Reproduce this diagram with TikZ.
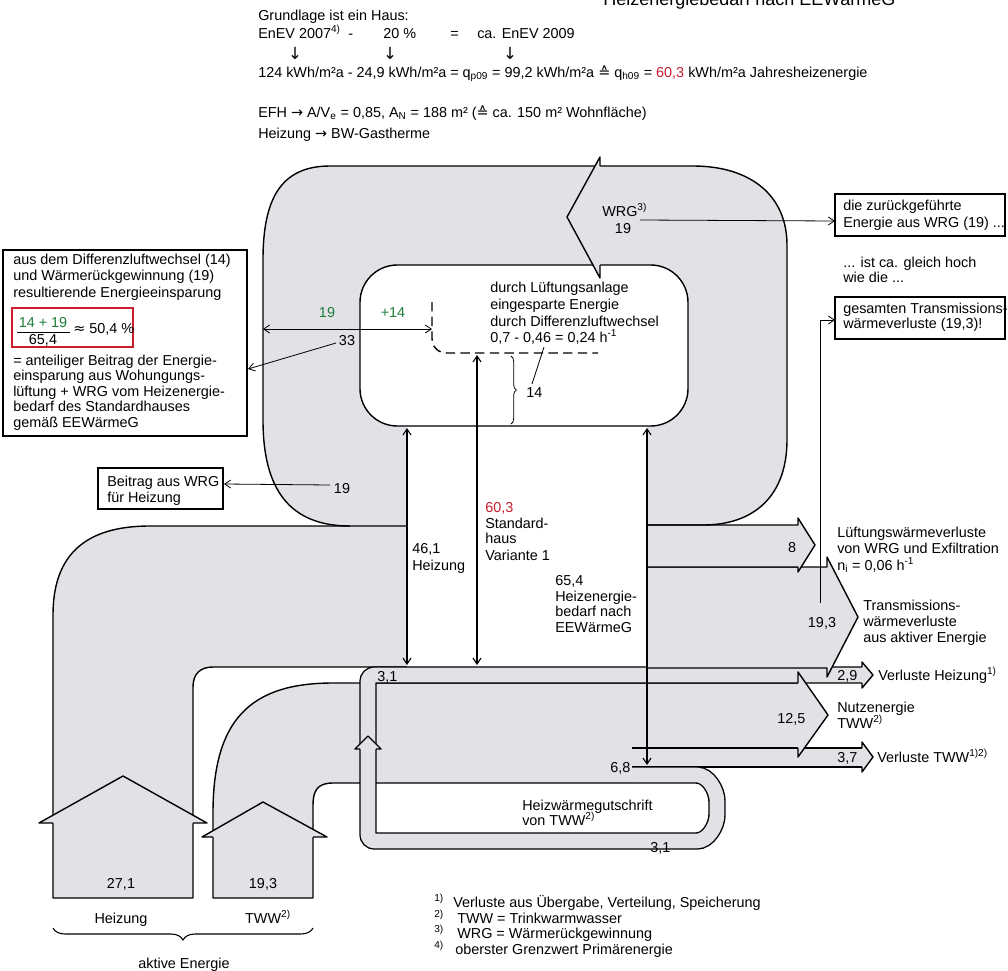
\documentclass[tikz,border=0pt]{standalone}
\usepackage{fontspec}
\setmainfont{Liberation Sans}
\newfontfamily\dejavu{DejaVu Sans}
\usetikzlibrary{arrows.meta,decorations.pathreplacing}
\definecolor{bandgray}{RGB}{226,226,230}
\definecolor{numred}{RGB}{200,30,45}
\definecolor{numgreen}{RGB}{30,125,60}
\begin{document}
\begin{tikzpicture}[x=0.75pt,y=-0.75pt,
  txt/.style={anchor=base west,inner sep=0pt,font=\fontsize{10.8}{13}\selectfont},
  ctxt/.style={anchor=base,inner sep=0pt,font=\fontsize{10.8}{13}\selectfont},
  band/.style={fill=bandgray},
  edge/.style={line width=1.05pt,line join=round},
  thinl/.style={line width=0.6pt},
  tipr/.style={-{Straight Barb[length=4.5pt,width=6pt]}},
  dtip/.style={{Straight Barb[length=4.5pt,width=6pt]}-{Straight Barb[length=4.5pt,width=6pt]}},
  boxl/.style={draw,line width=1pt},
  downarr/.style={inner sep=0pt,font=\fontsize{12.5}{13}\dejavu}]

\useasboundingbox (0,0) rectangle (1008,971);
\fill[white] (0,0) rectangle (1008,971);

% ---------- fills ----------
\fill[bandgray] (407,526) -- (350,526) .. controls (290,526) and (263,490) .. (263,420) -- (263,260)
  .. controls (263,200) and (280,166) .. (330,166) -- (693,166) .. controls (750,166) and (787,195) .. (787,245)
  -- (787,440) .. controls (787,495) and (755,525) .. (703,525) -- (647,525) -- (647,426) -- (407,426) -- cycle;

\fill[bandgray] (53,898) -- (53,615) .. controls (53,555) and (85,526) .. (150,526) -- (407,526) -- (407,667)
  -- (213,667) .. controls (200,667) and (193,674) .. (193,687) -- (193,898) -- cycle;

\fill[bandgray] (213,898) -- (213,813) .. controls (213,720) and (250,683) .. (333,683) -- (798,683) -- (798,748)
  -- (862,748) -- (862,767) -- (632,767) -- (632,783) -- (333,783) .. controls (318,783) and (313,790) .. (313,805)
  -- (313,898) -- cycle;

% ---------- band outlines ----------
\draw[edge] (407,526) -- (150,526) .. controls (85,526) and (53,555) .. (53,615) -- (53,898) -- (193,898)
  -- (193,687) .. controls (193,674) and (200,667) .. (213,667) -- (407,667);
\draw[edge] (798,683) -- (333,683) .. controls (250,683) and (213,720) .. (213,813) -- (213,898) -- (313,898)
  -- (313,805) .. controls (313,790) and (318,783) .. (333,783) -- (632,783);
\draw[edge] (632,748) -- (862,748);
\draw[edge] (632,767) -- (862,767);

% ---------- 3,1 return band ----------
\draw[line width=1.05pt, double=bandgray, double distance=10.95pt, rounded corners=5pt]
  (632,775) -- (690,775) .. controls (708,775) and (717,790) .. (717,808) .. controls (717,826) and (708,841) .. (690,841)
  -- (368,841) -- (368,675) -- (862,675);

% ---------- output arrows ----------
\filldraw[band,edge] (647,567) -- (827,567) -- (827,557) -- (858,617) -- (827,677) -- (827,668) -- (647,668);
\filldraw[band,edge] (647,525) -- (798,525) -- (798,518) -- (815,545) -- (798,572) -- (798,567) -- (647,567);

% ---------- loop outline ----------
\draw[edge] (350,526) .. controls (290,526) and (263,490) .. (263,420) -- (263,260)
  .. controls (263,200) and (280,166) .. (330,166) -- (693,166) .. controls (750,166) and (787,195) .. (787,245)
  -- (787,440) .. controls (787,495) and (755,525) .. (703,525) -- (647,525);

% ---------- inner box ----------
\filldraw[fill=white,edge,rounded corners=28pt] (360,265) rectangle (688,426);
\draw[edge,dash pattern=on 7pt off 4pt] (432,302) -- (432,338) .. controls (432,347) and (438,353) .. (447,353) -- (598,353);

% ---------- arrow heads ----------
\filldraw[band,edge] (600,166) -- (600,157) -- (567,217) -- (600,278) -- (600,265);
\filldraw[band,edge] (53,823) -- (39,823) -- (123,776) -- (207,823) -- (193,823);
\filldraw[band,edge] (213,837) -- (202,837) -- (263,802) -- (327,837) -- (313,837);
\filldraw[band,edge] (360,749) -- (355,749) -- (368,736) -- (381,749) -- (376,749);
\filldraw[band,edge] (798,683) -- (798,672) -- (828,715) -- (798,757) -- (798,748);
\filldraw[band,edge] (862,748) -- (862,742) -- (873,757) -- (862,772) -- (862,767);
\filldraw[band,edge] (862,667) -- (862,662) -- (873,675) -- (862,688) -- (862,683);

% ---------- measuring arrows and leaders ----------
\draw[thinl,dtip] (263,329) -- (432,329);
\draw[line width=0.8pt,dtip] (407,428) -- (407,665);
\draw[line width=0.8pt,dtip] (477,355) -- (477,665);
\draw[line width=0.8pt,dtip] (647,428) -- (647,765);
\draw[thinl,decorate,decoration={brace,amplitude=4pt}] (511,356) -- (511,424);
\draw[thinl] (532,384) -- (544,347);
\draw[thinl,tipr] (336,343) -- (248,369);
\draw[thinl,tipr] (330,485) -- (224,484);
\draw[thinl,tipr] (640,220) -- (835,221);
\draw[thinl,tipr] (820,603) -- (820,320) -- (835,320);
\draw[line width=0.8pt,decorate,decoration={brace,amplitude=9pt}] (313,928) -- (53,928);

% ---------- boxes ----------
\draw[boxl] (3,250) rectangle (247,436);
\draw[numred,line width=1.2pt] (12,308) rectangle (133,347);
\draw[boxl] (98,468) rectangle (223,509);
\draw[boxl] (835,194) rectangle (1005,236);
\draw[boxl] (835,297) rectangle (1005,339);

% ---------- top text ----------
\node[anchor=base west,inner sep=0pt,font=\fontsize{13.5}{16}\selectfont] (title) at (603,5) {Heizenergiebedarf nach EEWärmeG};
\node[txt] (t1) at (258,20) {Grundlage ist ein Haus:};
\node[txt] (t2) at (258,38) {EnEV 2007\textsuperscript{4)}};
\node[txt] (t3) at (348,38) {-};
\node[txt] (t4) at (383,38) {20 \%};
\node[txt] (t5) at (450,38) {=};
\node[txt] (t6) at (477,38) {ca. EnEV 2009};
\node[downarr] (a1) at (295,53) {↓};
\node[downarr] (a2) at (390,53) {↓};
\node[downarr] (a3) at (510,53) {↓};
\node[txt] (t7) at (258,77) {124 kWh/m²a - 24,9 kWh/m²a = q\textsubscript{p09} = 99,2 kWh/m²a {\dejavu ≙} q\textsubscript{h09} = \textcolor{numred}{60,3} kWh/m²a Jahresheizenergie};
\node[txt] (t8) at (258,117) {EFH {\dejavu →} A/V\textsubscript{e} = 0,85, A\textsubscript{N} = 188 m² ({\dejavu ≙} ca. 150 m² Wohnfläche)};
\node[txt] (t9) at (258,138) {Heizung {\dejavu →} BW-Gastherme};

% ---------- left box ----------
\node[txt] (l1) at (13,264) {aus dem Differenzluftwechsel (14)};
\node[txt] (l2) at (13,280) {und Wärmerückgewinnung (19)};
\node[txt] (l3) at (13,297) {resultierende Energieeinsparung};
\node[ctxt,text=numgreen] (fn) at (43,327) {14 + 19};
\draw[thinl] (17,332) -- (70,332);
\node[ctxt] (fd) at (43,344) {65,4};
\node[txt] (fr) at (73,333) {{\dejavu ≈} 50,4 \%};
\node[txt] (l4) at (13,365) {= anteiliger Beitrag der Energie-};
\node[txt] (l5) at (13,380) {einsparung aus Wohungungs-};
\node[txt] (l6) at (13,396) {lüftung + WRG vom Heizenergie-};
\node[txt] (l7) at (13,411) {bedarf des Standardhauses};
\node[txt] (l8) at (13,427) {gemäß EEWärmeG};
\node[txt] (b1) at (107,486) {Beitrag aus WRG};
\node[txt] (b2) at (107,502) {für Heizung};
\node[ctxt] (n19b) at (342,493) {19};

% ---------- loop labels ----------
\node[ctxt,text=numgreen] (g19) at (327,317) {19};
\node[ctxt,text=numgreen] (g14) at (393,317) {+14};
\node[ctxt] (n33) at (347,345) {33};
\node[txt] (wrg) at (602,216) {WRG\textsuperscript{3)}};
\node[ctxt] (w19) at (623,233) {19};
\node[txt] (i1) at (490,292) {durch Lüftungsanlage};
\node[txt] (i2) at (490,309) {eingesparte Energie};
\node[txt] (i3) at (490,326) {durch Differenzluftwechsel};
\node[txt] (i4) at (490,342) {0,7 - 0,46 = 0,24 h\textsuperscript{-1}};
\node[txt] (n14) at (526,397) {14};

% ---------- house labels ----------
\node[txt] (h1) at (412,553) {46,1};
\node[txt] (h2) at (412,570) {Heizung};
\node[txt,text=numred] (s1) at (485,512) {60,3};
\node[txt] (s2) at (485,528) {Standard-};
\node[txt] (s3) at (485,543) {haus};
\node[txt] (s4) at (485,560) {Variante 1};
\node[txt] (e1) at (555,585) {65,4};
\node[txt] (e2) at (555,601) {Heizenergie-};
\node[txt] (e3) at (555,616) {bedarf nach};
\node[txt] (e4) at (555,632) {EEWärmeG};

% ---------- right side ----------
\node[txt] (r1) at (843,210) {die zurückgeführte};
\node[txt] (r2) at (843,227) {Energie aus WRG (19) ...};
\node[txt] (r3) at (843,267) {... ist ca. gleich hoch};
\node[txt] (r4) at (843,282) {wie die ...};
\node[txt] (r5) at (843,313) {gesamten Transmissions-};
\node[txt] (r6) at (843,328) {wärmeverluste (19,3)!};
\node[ctxt] (o8) at (792,552) {8};
\node[txt] (v1) at (837,537) {Lüftungswärmeverluste};
\node[txt] (v2) at (837,553) {von WRG und Exfiltration};
\node[txt] (v3) at (837,570) {n\textsubscript{i} = 0,06 h\textsuperscript{-1}};
\node[ctxt] (o193) at (822,627) {19,3};
\node[txt] (tr1) at (863,610) {Transmissions-};
\node[txt] (tr2) at (863,626) {wärmeverluste};
\node[txt] (tr3) at (863,642) {aus aktiver Energie};
\node[txt] (o29) at (837,680) {2,9};
\node[txt] (vh) at (878,680) {Verluste Heizung\textsuperscript{1)}};
\node[txt] (o125) at (777,723) {12,5};
\node[txt] (nu1) at (837,712) {Nutzenergie};
\node[txt] (nu2) at (837,728) {TWW\textsuperscript{2)}};
\node[txt] (o37) at (837,762) {3,7};
\node[txt] (vt) at (877,762) {Verluste TWW\textsuperscript{1)2)}};
\node[txt] (o68) at (610,772) {6,8};
\node[txt] (o31a) at (377,681) {3,1};
\node[txt] (hg1) at (522,810) {Heizwärmegutschrift};
\node[txt] (hg2) at (522,825) {von TWW\textsuperscript{2)}};
\node[txt] (o31b) at (650,852) {3,1};

% ---------- bottom ----------
\node[ctxt] (i271) at (121,888) {27,1};
\node[ctxt] (i193) at (263,888) {19,3};
\node[ctxt] (ih) at (121,923) {Heizung};
\node[ctxt] (itww) at (268,923) {TWW\textsuperscript{2)}};
\node[ctxt] (ae) at (184,968) {aktive Energie};

\node[txt] (f1m) at (434,907) {\textsuperscript{1)}};
\node[txt] (f1) at (453,907) {Verluste aus Übergabe, Verteilung, Speicherung};
\node[txt] (f2m) at (434,923) {\textsuperscript{2)}};
\node[txt] (f2) at (457,923) {TWW = Trinkwarmwasser};
\node[txt] (f3m) at (434,938) {\textsuperscript{3)}};
\node[txt] (f3) at (457,938) {WRG = Wärmerückgewinnung};
\node[txt] (f4m) at (434,954) {\textsuperscript{4)}};
\node[txt] (f4) at (455,954) {oberster Grenzwert Primärenergie};
\end{tikzpicture}
\end{document}
